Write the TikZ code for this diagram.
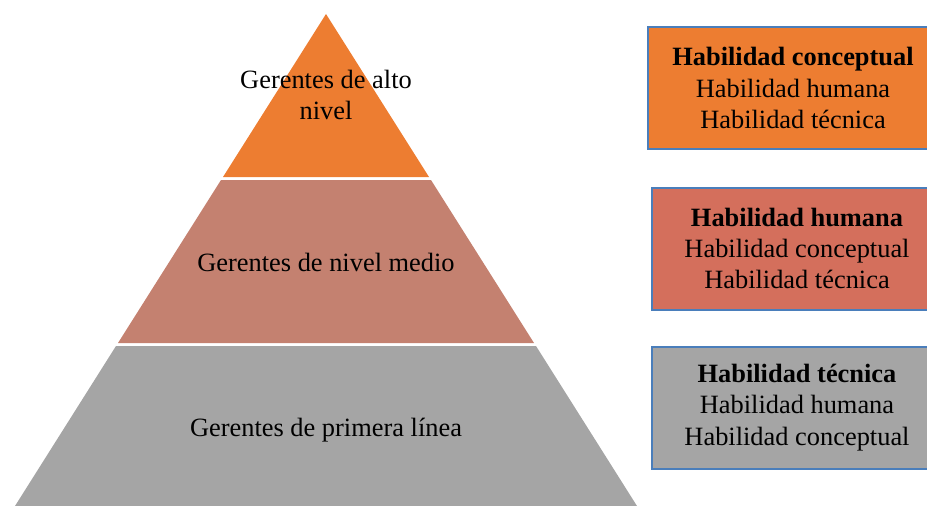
\documentclass[tikz,border=0pt]{standalone}
\usepackage{fontspec}
\setmainfont{Liberation Serif}

\definecolor{altoorange}{HTML}{ED7D31}
\definecolor{mediorose}{HTML}{C48170}
\definecolor{humanared}{HTML}{D46F5C}
\definecolor{lineagray}{HTML}{A5A5A5}
\definecolor{boxblue}{HTML}{4A7EBB}

\tikzset{
  levellabel/.style={font=\fontsize{19.8}{23.25}\selectfont, align=center, inner sep=0pt},
  skillbox/.style={draw=boxblue, line width=1.5pt, minimum width=217.5pt,
                   minimum height=91.5pt, inner sep=0pt, align=center,
                   font=\fontsize{19.8}{23.6}\selectfont}
}

\begin{document}
\begin{tikzpicture}[x=0.75pt,y=-0.75pt]

\useasboundingbox (0,0) rectangle (927,506);
\clip (0,0) rectangle (927,506);

% pyramid
\fill [altoorange] (326,14) -- (429,177) -- (223,177) -- cycle;
\fill [mediorose]  (221,180) -- (431,180) -- (534,343) -- (118,343) -- cycle;
\fill [lineagray]  (116,346) -- (536,346) -- (637,506) -- (15,506) -- cycle;

\node [levellabel] (alto)    at (326,95)  {Gerentes de alto\\nivel};
\node [levellabel] (medio)   at (326,262) {Gerentes de nivel medio};
\node [levellabel] (primera) at (326,430) {Gerentes de primera línea};

% skill boxes
\node [skillbox, fill=altoorange] (conceptual) at (793,88)
      {\textbf{Habilidad conceptual}\\Habilidad humana\\Habilidad técnica};
\node [skillbox, fill=humanared]  (humana)     at (797,248.5)
      {\textbf{Habilidad humana}\\Habilidad conceptual\\Habilidad técnica};
\node [skillbox, fill=lineagray]  (tecnica)    at (797,407.5)
      {\textbf{Habilidad técnica}\\Habilidad humana\\Habilidad conceptual};
\end{tikzpicture}
\end{document}
